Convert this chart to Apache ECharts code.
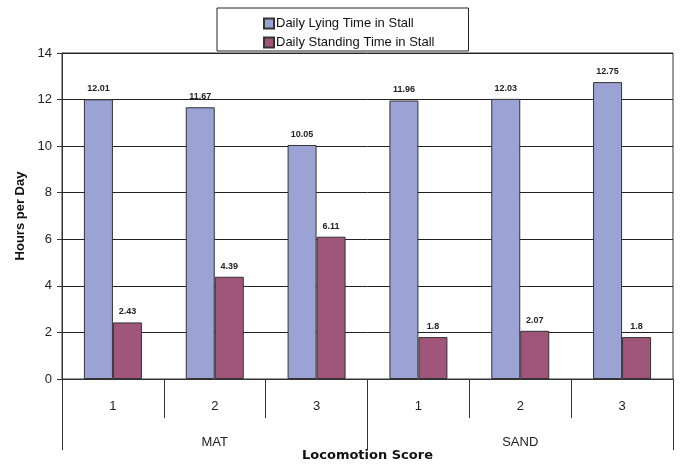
<!DOCTYPE html>
<html>
<head>
<meta charset="utf-8">
<script src="https://cdn.jsdelivr.net/npm/echarts@6/dist/echarts.min.js"></script>
<style>html,body{margin:0;padding:0;background:#fff;}#c{width:681px;height:464px;}</style>
</head>
<body>
<div id="c"></div>
<script>
var scores = ['1', '2', '3', '1', '2', '3'];
var groups = ['MAT', 'SAND'];
var lying = [12.01, 11.67, 10.05, 11.96, 12.03, 12.75];
var standing = [2.43, 4.39, 6.11, 1.8, 2.07, 1.8];
var yTicks = [0, 2, 4, 6, 8, 10, 12, 14];

var font = 'Liberation Sans, Arial, sans-serif';
var chart = echarts.init(document.getElementById('c'));
var labelStyle = {show: true, position: 'top', distance: 6, fontSize: 9, fontWeight: 'bold', color: '#222', fontFamily: font};
chart.setOption({
  animation: false,
  textStyle: {fontFamily: font},
  legend: {
    orient: 'vertical', left: 217, top: 8,
    padding: [9, 34, 2, 46], itemGap: 6,
    itemWidth: 10, itemHeight: 10,
    borderColor: '#222', borderWidth: 1,
    textStyle: {fontSize: 13, color: '#111', fontFamily: font, padding: [0, 0, 0, -3]},
    data: [{name: 'Daily Lying Time in Stall', icon: 'rect'}, {name: 'Daily Standing Time in Stall', icon: 'rect'}]
  },
  grid: {left: 62, right: 8, top: 53, bottom: 85, show: true, borderColor: '#333', borderWidth: 1, containLabel: false, outerBoundsMode: 'none'},
  xAxis: [{
    type: 'category', data: scores, position: 'bottom',
    axisLine: {show: true, lineStyle: {color: '#333'}},
    axisTick: {show: true, interval: 0, length: 39, lineStyle: {color: '#333'}},
    axisLabel: {margin: 21, fontSize: 13, color: '#222'}
  }, {
    type: 'category', data: groups, position: 'bottom',
    axisLine: {show: false},
    axisTick: {show: true, interval: 0, length: 71, lineStyle: {color: '#333'}},
    axisLabel: {margin: 57, fontSize: 13, color: '#222'},
    name: 'Locomotion Score', nameLocation: 'middle', nameGap: 70, nameMoveOverlap: false,
    nameTextStyle: {fontSize: 13, fontWeight: 'bold', color: '#111', fontFamily: 'DejaVu Sans'}
  }],
  yAxis: {
    type: 'value', min: 0, max: 14, interval: 2,
    name: 'Hours per Day', nameLocation: 'middle', nameGap: 35, nameRotate: 90,
    nameTextStyle: {fontSize: 13, fontWeight: 'bold', color: '#111'},
    axisLine: {show: true, lineStyle: {color: '#333'}},
    axisTick: {show: true, length: 5, lineStyle: {color: '#333'}},
    axisLabel: {margin: 10, fontSize: 13, color: '#222', formatter: function (v) { return yTicks.indexOf(v) >= 0 ? String(v) : ''; }},
    splitLine: {lineStyle: {color: '#222', width: 1}}
  },
  series: [{
    name: 'Daily Lying Time in Stall', type: 'bar', data: lying,
    barWidth: 29, barGap: '0%',
    itemStyle: {color: '#9aa3d3', borderColor: '#333', borderWidth: 1},
    label: labelStyle
  }, {
    name: 'Daily Standing Time in Stall', type: 'bar', data: standing,
    barWidth: 29, barGap: '0%',
    itemStyle: {color: '#a0557a', borderColor: '#333', borderWidth: 1},
    label: labelStyle
  }]
});
</script>
</body>
</html>
